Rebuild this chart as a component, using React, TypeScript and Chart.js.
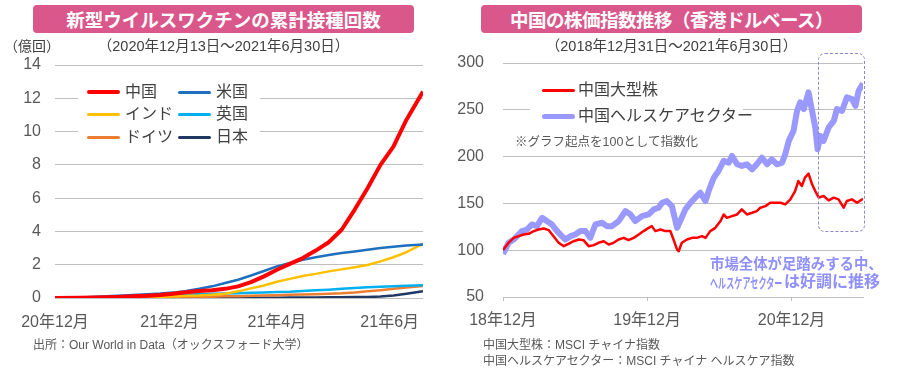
import React, { useEffect, useRef } from 'react';
import { Chart, registerables } from 'chart.js';

Chart.register(...registerables);

const FONT = '"Liberation Sans", "Noto Sans CJK JP", sans-serif';

// ---------- Left chart: cumulative vaccinations (hundred million doses) ----------
const vaccineDays = [0, 14, 28, 34, 42, 50, 57, 64, 66, 71, 78, 85, 92, 99, 106, 113, 120, 127, 134, 141, 148, 155, 162, 169, 176, 183, 190, 199];
const chinaDoses = [0, 0.02, 0.04, 0.06, 0.1, 0.14, 0.18, 0.25, 0.28, 0.35, 0.42, 0.47, 0.55, 0.7, 0.95, 1.3, 1.7, 2.05, 2.4, 2.85, 3.35, 4.1, 5.3, 6.6, 8.0, 9.1, 10.7, 12.4];
const usDoses = [0, 0.03, 0.1, 0.13, 0.18, 0.23, 0.27, 0.33, 0.35, 0.42, 0.55, 0.7, 0.9, 1.1, 1.35, 1.62, 1.9, 2.1, 2.3, 2.45, 2.58, 2.7, 2.8, 2.9, 3.0, 3.08, 3.15, 3.22];
const indiaDoses = [null, null, null, 0, 0.02, 0.05, 0.07, 0.1, 0.11, 0.13, 0.15, 0.2, 0.25, 0.4, 0.58, 0.75, 0.98, 1.15, 1.32, 1.45, 1.6, 1.72, 1.85, 1.98, 2.2, 2.45, 2.75, 3.25];
const ukDoses = [0, 0.01, 0.03, 0.05, 0.07, 0.1, 0.13, 0.16, 0.17, 0.2, 0.22, 0.25, 0.27, 0.29, 0.31, 0.33, 0.36, 0.38, 0.42, 0.46, 0.5, 0.55, 0.6, 0.64, 0.67, 0.7, 0.73, 0.76];
const germanyDoses = [null, 0, 0.01, 0.01, 0.02, 0.03, 0.04, 0.05, 0.05, 0.06, 0.07, 0.08, 0.1, 0.11, 0.13, 0.15, 0.17, 0.19, 0.21, 0.23, 0.25, 0.28, 0.33, 0.4, 0.47, 0.55, 0.63, 0.72];
const japanDoses = [null, null, null, null, null, null, null, null, 0, 0.002, 0.005, 0.008, 0.01, 0.012, 0.015, 0.018, 0.02, 0.025, 0.03, 0.035, 0.04, 0.05, 0.055, 0.06, 0.09, 0.15, 0.25, 0.4];
const vaccineTickDays = [0, 62, 120, 181];
const vaccineTickLabels = ['20年12月', '21年2月', '21年4月', '21年6月'];

// ---------- Right chart: China stock indices (HKD, start = 100) ----------
const healthDays = [0, 7, 14, 27, 40, 48, 61, 73, 86, 99, 111, 124, 137, 149, 158, 171, 183, 196, 209, 221, 234, 251, 263, 276, 293, 310, 323, 335, 352, 369, 382, 394, 403, 415, 428, 441, 449, 462, 475, 487, 500, 513, 521, 534, 546, 559, 572, 580, 593, 605, 618, 631, 643, 656, 669, 681, 694, 707, 715, 724, 736, 745, 753, 762, 774, 783, 791, 797, 804, 812, 825, 838, 846, 859, 871, 884, 893, 901, 912];
const healthValues = [96, 102, 107.9, 111.4, 116.8, 120.4, 122.1, 127.5, 125.7, 134.6, 131.1, 127.5, 120.4, 115, 111.4, 115, 116.8, 120.4, 120.4, 113.2, 127.5, 129.3, 125.7, 125.7, 131.1, 141.8, 138.2, 131.1, 136.4, 138.2, 143.6, 145.4, 150.7, 152.5, 147.1, 123.9, 131.1, 143.6, 150.7, 156.1, 161.4, 152.5, 163.2, 177.5, 184.6, 195.4, 193.6, 200.7, 191.8, 190, 191.8, 186.4, 191.8, 198.9, 191.8, 197.1, 191.8, 193.6, 202.5, 216.8, 227.5, 248.9, 257.9, 250.7, 268.6, 248.9, 231.1, 207.9, 222.1, 216.8, 231.1, 238.2, 250.7, 248.9, 263.2, 261.4, 254.3, 270.4, 278];
const largeCapDays = [0, 14, 27, 40, 52, 65, 78, 90, 103, 116, 128, 141, 154, 166, 179, 192, 204, 217, 230, 242, 255, 268, 280, 293, 306, 318, 331, 344, 356, 369, 377, 386, 399, 411, 424, 432, 441, 445, 453, 466, 479, 491, 504, 513, 525, 538, 551, 559, 567, 580, 593, 605, 618, 631, 643, 652, 665, 677, 690, 703, 715, 728, 740, 748, 757, 765, 774, 783, 791, 800, 812, 825, 838, 850, 863, 871, 884, 897, 912];
const largeCapValues = [100, 107.9, 113.2, 115, 116.8, 117.5, 120.4, 122.1, 123.2, 121.4, 115, 107.9, 104.3, 106.8, 109.6, 111.4, 110.7, 104.3, 105.4, 107.9, 109.6, 106.1, 107.9, 111.4, 113.2, 110.7, 113.2, 116.8, 120.4, 123.9, 125.7, 120.4, 122.1, 120.4, 120.4, 111.4, 100.7, 98.9, 107.9, 111.4, 113.2, 113.2, 115, 113.2, 120.4, 123.9, 131.1, 138.2, 134.6, 136.4, 138.2, 143.6, 138.2, 140, 141.8, 145.4, 147.1, 150.7, 150.7, 150.7, 148.9, 154.3, 163.2, 173.9, 168.6, 177.5, 181.8, 170.4, 163.2, 156.1, 157.9, 153.2, 156.1, 154.3, 145.4, 152.5, 154.3, 150.7, 155];
const stockTickDays = [0, 365, 731];
const stockTickLabels = ['18年12月', '19年12月', '20年12月'];

const GRID = '#BFBFBF';
const TICK = '#595959';
const TEXT = '#404040';
const PINK = '#D9578B';
const HC = '#9999FF';

const toPoints = (xs: number[], ys: (number | null)[]) => xs.map((x, i) => ({ x, y: ys[i] }));

const fixY = (width: number) => (s: any) => {
  s.width = width;
  s.paddingTop = 0;
  s.paddingBottom = 0;
};

function VaccineChart() {
  const ref = useRef<HTMLCanvasElement>(null);
  useEffect(() => {
    const series = [
      { label: '中国', data: chinaDoses, color: '#FF0000', width: 4 },
      { label: '米国', data: usDoses, color: '#1F6FBF', width: 2.5 },
      { label: 'インド', data: indiaDoses, color: '#FFC000', width: 2.5 },
      { label: '英国', data: ukDoses, color: '#00B0F0', width: 2.5 },
      { label: 'ドイツ', data: germanyDoses, color: '#ED7D31', width: 2.5 },
      { label: '日本', data: japanDoses, color: '#203864', width: 2.5 },
    ];
    const chart = new Chart(ref.current as HTMLCanvasElement, {
      type: 'line',
      data: {
        datasets: series.map((s) => ({
          label: s.label,
          data: toPoints(vaccineDays, s.data),
          borderColor: s.color,
          backgroundColor: s.color,
          borderWidth: s.width,
          pointRadius: 0,
          tension: 0,
          fill: false,
          borderJoinStyle: 'round' as const,
        })),
      },
      options: {
        responsive: false,
        animation: false,
        layout: { padding: { top: 15, right: 17, left: 0, bottom: 0 } },
        plugins: { legend: { display: false }, tooltip: { enabled: false } },
        scales: {
          x: {
            type: 'linear',
            min: 0,
            max: 199,
            grid: { display: false, drawTicks: false },
            border: { display: false },
            afterBuildTicks: (s: any) => {
              s.ticks = vaccineTickDays.map((v) => ({ value: v }));
            },
            afterFit: (s: any) => {
              s.height = 52;
            },
            ticks: {
              autoSkip: false,
              maxRotation: 0,
              padding: 15,
              color: TICK,
              font: { family: FONT, size: 16 },
              callback: (v: any) => vaccineTickLabels[vaccineTickDays.indexOf(Number(v))] ?? '',
            },
          },
          y: {
            min: 0,
            max: 14,
            grid: { color: GRID, drawTicks: false },
            border: { display: false },
            afterFit: fixY(55),
            ticks: { stepSize: 2, padding: 14, color: TICK, font: { family: FONT, size: 16 } },
          },
        },
      },
    });
    return () => chart.destroy();
  }, []);
  return (
    <canvas ref={ref} width={440} height={300} style={{ position: 'absolute', left: 0, top: 50, width: 440, height: 300 }} />
  );
}

function StockChart() {
  const ref = useRef<HTMLCanvasElement>(null);
  useEffect(() => {
    const chart = new Chart(ref.current as HTMLCanvasElement, {
      type: 'line',
      data: {
        datasets: [
          {
            label: '中国大型株',
            data: toPoints(largeCapDays, largeCapValues),
            borderColor: '#FF0000',
            borderWidth: 2.5,
            pointRadius: 0,
            tension: 0,
            fill: false,
            borderJoinStyle: 'round' as const,
          },
          {
            label: '中国ヘルスケアセクター',
            data: toPoints(healthDays, healthValues),
            borderColor: HC,
            borderWidth: 6,
            pointRadius: 0,
            tension: 0,
            fill: false,
            borderJoinStyle: 'round' as const,
          },
        ],
      },
      options: {
        responsive: false,
        animation: false,
        layout: { padding: { top: 13, right: 37, left: 0, bottom: 0 } },
        plugins: { legend: { display: false }, tooltip: { enabled: false } },
        scales: {
          x: {
            type: 'linear',
            min: 0,
            max: 912,
            grid: { display: true, drawOnChartArea: false, drawTicks: true, tickLength: 4, color: GRID },
            border: { display: true, color: GRID },
            afterBuildTicks: (s: any) => {
              s.ticks = stockTickDays.map((v) => ({ value: v }));
            },
            afterFit: (s: any) => {
              s.height = 53;
            },
            ticks: {
              autoSkip: false,
              maxRotation: 0,
              padding: 10,
              color: TICK,
              font: { family: FONT, size: 16 },
              callback: (v: any) => stockTickLabels[stockTickDays.indexOf(Number(v))] ?? '',
            },
          },
          y: {
            min: 50,
            max: 300,
            grid: { color: GRID, drawTicks: false },
            border: { display: false },
            afterFit: fixY(53),
            ticks: { stepSize: 50, padding: 19, color: TICK, font: { family: FONT, size: 16 } },
          },
        },
      },
    });
    return () => chart.destroy();
  }, []);
  return (
    <canvas ref={ref} width={450} height={300} style={{ position: 'absolute', left: 450, top: 50, width: 450, height: 300 }} />
  );
}

const abs = (style: React.CSSProperties): React.CSSProperties => ({ position: 'absolute', whiteSpace: 'nowrap', ...style });

function TitleBox({ left, text, spacing }: { left: number; text: string; spacing?: number }) {
  return (
    <div
      style={abs({
        left,
        top: 5,
        width: 381,
        height: 28,
        background: PINK,
        borderRadius: 4,
        color: '#FFFFFF',
        fontWeight: 'bold',
        fontSize: 18.5,
        letterSpacing: spacing ?? 0,
        display: 'flex',
        alignItems: 'center',
        justifyContent: 'center',
      })}
    >
      {text}
    </div>
  );
}

function LegendLine({ left, y, color, thick, label, textLeft }: { left: number; y: number; color: string; thick: number; label: string; textLeft: number }) {
  return (
    <>
      <div style={abs({ left, top: y - thick / 2, width: 33, height: thick, background: color, borderRadius: thick / 2 })} />
      <div style={abs({ left: textLeft, top: y - 11, height: 22, lineHeight: '22px', fontSize: 16, color: TEXT })}>{label}</div>
    </>
  );
}

export default function App() {
  return (
    <div style={{ position: 'absolute', left: 0, top: 0, width: 900, height: 370, background: '#FFFFFF', fontFamily: FONT, overflow: 'hidden' }}>
      <VaccineChart />
      <StockChart />

      {/* Left header */}
      <TitleBox left={33} text="新型ウイルスワクチンの累計接種回数" />
      <div style={abs({ left: 4, top: 37, lineHeight: '18px', fontSize: 14, color: TEXT })}>（億回）</div>
      <div style={abs({ left: 33, width: 381, top: 37, lineHeight: '18px', fontSize: 14.5, color: TEXT, textAlign: 'center' })}>
        （2020年12月13日～2021年6月30日）
      </div>

      {/* Left legend */}
      <div style={abs({ left: 78, top: 75, width: 182, height: 72, background: '#FFFFFF' })} />
      <LegendLine left={87} y={92} color="#FF0000" thick={4} label="中国" textLeft={125} />
      <LegendLine left={178} y={92} color="#1F6FBF" thick={3} label="米国" textLeft={216} />
      <LegendLine left={87} y={114} color="#FFC000" thick={3} label="インド" textLeft={125} />
      <LegendLine left={178} y={114} color="#00B0F0" thick={3} label="英国" textLeft={216} />
      <LegendLine left={87} y={137} color="#ED7D31" thick={3} label="ドイツ" textLeft={125} />
      <LegendLine left={178} y={137} color="#203864" thick={3} label="日本" textLeft={216} />

      <div style={abs({ left: 33, top: 337, lineHeight: '16px', fontSize: 12, color: TICK })}>
        出所：Our World in Data（オックスフォード大学）
      </div>

      {/* Right header */}
      <TitleBox left={481} text="中国の株価指数推移（香港ドルベース）" spacing={-0.5} />
      <div style={abs({ left: 481, width: 381, top: 37, lineHeight: '18px', fontSize: 14.5, color: TEXT, textAlign: 'center' })}>
        （2018年12月31日～2021年6月30日）
      </div>

      {/* Right legend */}
      <div style={abs({ left: 530, top: 75, width: 213, height: 50, background: '#FFFFFF' })} />
      <LegendLine left={542} y={90} color="#FF0000" thick={3} label="中国大型株" textLeft={578} />
      <LegendLine left={542} y={116} color={HC} thick={5} label="中国ヘルスケアセクター" textLeft={578} />
      <div style={abs({ left: 515, top: 134, lineHeight: '16px', fontSize: 12.5, color: TICK })}>※グラフ起点を100として指数化</div>

      {/* Highlight box */}
      <div style={abs({ left: 818, top: 53, width: 45, height: 177, border: '1.5px dashed #8A8AD0', borderRadius: 7 })} />

      {/* Annotation */}
      <div style={abs({ left: 710, top: 255, lineHeight: '18px', fontSize: 14.4, fontWeight: 'bold', color: '#8F8FFF' })}>
        市場全体が足踏みする中、
      </div>
      <div style={abs({ left: 710, top: 274, width: 73, height: 18, overflow: 'visible' })}>
        <span
          style={{
            display: 'inline-block',
            fontSize: 13.5,
            lineHeight: '18px',
            fontWeight: 'bold',
            color: '#8F8FFF',
            transform: 'scaleX(0.6)',
            transformOrigin: 'left center',
            whiteSpace: 'nowrap',
          }}
        >
          ヘルスケアセクター
        </span>
      </div>
      <div style={abs({ left: 784, top: 273, lineHeight: '18px', fontSize: 16, fontWeight: 'bold', color: '#8F8FFF' })}>
        は好調に推移
      </div>

      <div style={abs({ left: 483, top: 337, lineHeight: '16px', fontSize: 12, color: TICK })}>中国大型株：MSCI チャイナ指数</div>
      <div style={abs({ left: 483, top: 353, lineHeight: '16px', fontSize: 12, color: TICK })}>
        中国ヘルスケアセクター：MSCI チャイナ ヘルスケア指数
      </div>
    </div>
  );
}
